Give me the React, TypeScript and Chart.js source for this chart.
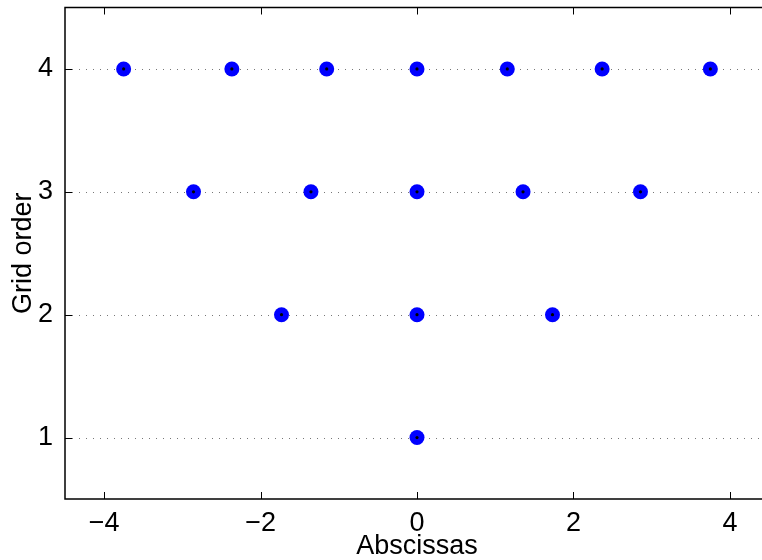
import React, { useEffect, useRef } from "react";
import { Chart, registerables } from "chart.js";
Chart.register(...registerables);

const gridOrders = [1, 2, 3, 4];
const level1X = [0];
const level2X = [-1.7321, 0, 1.7321];
const level3X = [-2.857, -1.3556, 0, 1.3556, 2.857];
const level4X = [-3.7504, -2.3668, -1.1544, 0, 1.1544, 2.3668, 3.7504];
const xTicks = [-4, -2, 0, 2, 4];
const yTicks = [1, 2, 3, 4];
const xLabel = "Abscissas";
const yLabel = "Grid order";

const levels = [level1X, level2X, level3X, level4X];
const points = levels.flatMap((xs, i) => xs.map((x) => ({ x, y: gridOrders[i] })));

const framePlugin = {
  id: "frame",
  beforeDatasetsDraw(chart: any) {
    const { ctx, chartArea: a, scales } = chart;
    ctx.save();
    ctx.strokeStyle = "#777";
    ctx.lineWidth = 1;
    ctx.setLineDash([1, 6]);
    for (const v of yTicks) {
      const y = Math.round(scales.y.getPixelForValue(v)) + 0.5;
      ctx.beginPath();
      ctx.moveTo(a.left, y);
      ctx.lineTo(a.right, y);
      ctx.stroke();
    }
    ctx.restore();
  },
  afterDraw(chart: any) {
    const { ctx, chartArea: a, scales } = chart;
    ctx.save();
    ctx.strokeStyle = "#000";
    ctx.lineWidth = 1;
    ctx.setLineDash([]);
    const tl = 7;
    for (const v of xTicks) {
      const x = Math.round(scales.x.getPixelForValue(v)) + 0.5;
      ctx.beginPath();
      ctx.moveTo(x, a.bottom);
      ctx.lineTo(x, a.bottom - tl);
      ctx.moveTo(x, a.top);
      ctx.lineTo(x, a.top + tl);
      ctx.stroke();
    }
    for (const v of yTicks) {
      const y = Math.round(scales.y.getPixelForValue(v)) + 0.5;
      ctx.beginPath();
      ctx.moveTo(a.left, y);
      ctx.lineTo(a.left + tl, y);
      ctx.moveTo(a.right, y);
      ctx.lineTo(a.right - tl, y);
      ctx.stroke();
    }
    ctx.lineWidth = 1.5;
    ctx.strokeRect(a.left, a.top, a.right - a.left, a.bottom - a.top);
    ctx.restore();
  },
};

export default function App() {
  const ref = useRef<HTMLCanvasElement>(null);
  useEffect(() => {
    Chart.defaults.font.family = "'Liberation Sans', Arial, Helvetica, sans-serif";
    const chart = new Chart(ref.current!, {
      type: "scatter",
      data: {
        datasets: [
          {
            data: points,
            backgroundColor: "#0000FF",
            pointRadius: 7.5,
            pointBorderWidth: 0,
            borderWidth: 0,
            order: 2,
          },
          {
            data: points,
            backgroundColor: "#000000",
            pointRadius: 1.6,
            pointBorderWidth: 0,
            borderWidth: 0,
            order: 1,
          },
        ],
      },
      options: {
        animation: false,
        responsive: false,
        devicePixelRatio: 1,
        layout: { padding: { top: 6, right: 31, left: 0, bottom: 0 } },
        plugins: { legend: { display: false }, tooltip: { enabled: false } },
        scales: {
          x: {
            type: "linear",
            min: -4.5,
            max: 4.5,
            grid: { display: false },
            border: { display: false },
            afterBuildTicks: (s: any) => {
              s.ticks = xTicks.map((v) => ({ value: v }));
            },
            afterFit: (s: any) => {
              s.height = 61;
              s.paddingLeft = 0;
              s.paddingRight = 0;
            },
            ticks: {
              color: "#000",
              font: { size: 27 },
              padding: 0,
              maxRotation: 0,
              callback: (v: any) => String(v).replace("-", "\u2212"),
            },
            title: {
              display: true,
              text: xLabel,
              color: "#000",
              font: { size: 27, lineHeight: 1 },
              padding: { top: 0, bottom: 0 },
            },
          },
          y: {
            type: "linear",
            min: 0.5,
            max: 4.5,
            grid: { display: false },
            border: { display: false },
            afterBuildTicks: (s: any) => {
              s.ticks = yTicks.map((v) => ({ value: v }));
            },
            afterFit: (s: any) => {
              s.width = 65;
              s.paddingTop = 0;
              s.paddingBottom = 0;
            },
            ticks: {
              color: "#000",
              font: { size: 27 },
              padding: 4,
              callback: (v: any) => String(v),
            },
            title: {
              display: true,
              text: yLabel,
              color: "#000",
              font: { size: 27, lineHeight: 1 },
              padding: { top: 10, bottom: 0 },
            },
          },
        },
      },
      plugins: [framePlugin],
    });
    return () => chart.destroy();
  }, []);
  return (
    <div
      style={{
        position: "fixed",
        left: 0,
        top: 0,
        width: 762,
        height: 560,
        overflow: "hidden",
        background: "#fff",
      }}
    >
      <canvas ref={ref} width={800} height={560} style={{ display: "block", width: 800, height: 560 }} />
    </div>
  );
}
